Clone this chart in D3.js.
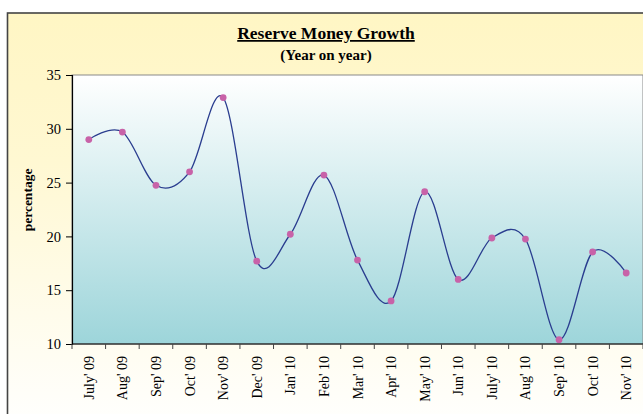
<!DOCTYPE html>
<html>
<head>
<meta charset="utf-8">
<script src="https://cdn.jsdelivr.net/npm/d3@7"></script>
<style>
  html, body { margin: 0; padding: 0; background: #ffffff; overflow: hidden; }
  svg { display: block; font-family: "Liberation Serif", "Times New Roman", serif; }
</style>
</head>
<body>
<script>
// chart data
var months = ["July' 09", "Aug' 09", "Sep' 09", "Oct' 09", "Nov' 09", "Dec' 09", "Jan' 10", "Feb' 10",
              "Mar' 10", "Apr' 10", "May' 10", "Jun' 10", "July' 10", "Aug' 10", "Sep' 10", "Oct' 10", "Nov' 10"];
var growth = [29.0, 29.7, 24.75, 26.0, 32.9, 17.7, 20.2, 25.7,
              17.8, 14.0, 24.15, 16.0, 19.85, 19.75, 10.4, 18.55, 16.6];
var yTicks = [10, 15, 20, 25, 30, 35];

var width = 643, height = 414;
var plot = {left: 72, top: 75, right: 643, bottom: 344};

var svg = d3.select("body").append("svg")
    .attr("width", width)
    .attr("height", height);

var defs = svg.append("defs");

var outerGrad = defs.append("linearGradient")
    .attr("id", "outerGrad")
    .attr("x1", 0).attr("y1", 0).attr("x2", 0).attr("y2", 1);
outerGrad.append("stop").attr("offset", "0%").attr("stop-color", "#fff6c4");
outerGrad.append("stop").attr("offset", "35%").attr("stop-color", "#fff8d2");
outerGrad.append("stop").attr("offset", "100%").attr("stop-color", "#ffffff");

var plotGrad = defs.append("linearGradient")
    .attr("id", "plotGrad")
    .attr("x1", 0).attr("y1", 0).attr("x2", 0).attr("y2", 1);
plotGrad.append("stop").attr("offset", "0%").attr("stop-color", "#ffffff");
plotGrad.append("stop").attr("offset", "100%").attr("stop-color", "#9dd5da");

// outer chart frame
svg.append("rect")
    .attr("x", 7.5).attr("y", 13)
    .attr("width", 660).attr("height", 420)
    .attr("fill", "url(#outerGrad)")
    .attr("stroke", "#444")
    .attr("stroke-width", 1.6);

// plot area
svg.append("rect")
    .attr("x", plot.left).attr("y", plot.top)
    .attr("width", plot.right - plot.left).attr("height", plot.bottom - plot.top)
    .attr("fill", "url(#plotGrad)")
    .attr("stroke", "#8a8a8a")
    .attr("stroke-width", 1);

var x = d3.scaleBand()
    .domain(months)
    .range([plot.left, plot.right]);

var y = d3.scaleLinear()
    .domain([10, 35])
    .range([plot.bottom, plot.top]);

// y axis
var yAxis = svg.append("g")
    .attr("transform", "translate(" + plot.left + ",0)")
    .call(d3.axisLeft(y).tickValues(yTicks).tickSize(6).tickPadding(5));
yAxis.select(".domain").attr("stroke", "#000").attr("stroke-width", 1.2);
yAxis.selectAll(".tick line").attr("stroke", "#000");
yAxis.selectAll("text")
    .attr("font-family", "Liberation Serif, serif")
    .attr("font-size", 14.5)
    .attr("fill", "#000");

// x axis: ticks on band boundaries
var xAxis = svg.append("g")
    .attr("transform", "translate(0," + plot.bottom + ")");
xAxis.append("line")
    .attr("x1", plot.left).attr("x2", plot.right)
    .attr("stroke", "#000").attr("stroke-width", 1.2);
xAxis.selectAll(".xtick")
    .data(months.concat(["end"]))
    .enter().append("line")
    .attr("class", "xtick")
    .attr("x1", function(d, i) { return plot.left + i * x.step(); })
    .attr("x2", function(d, i) { return plot.left + i * x.step(); })
    .attr("y1", 0).attr("y2", 5)
    .attr("stroke", "#444");
xAxis.selectAll(".xlabel")
    .data(months)
    .enter().append("text")
    .attr("class", "xlabel")
    .attr("transform", function(d) {
        return "translate(" + (x(d) + x.bandwidth() / 2 + 5) + ",12) rotate(-90)";
    })
    .attr("text-anchor", "end")
    .attr("font-size", 14)
    .attr("fill", "#000")
    .text(function(d) { return d; });

// smoothed line
var line = d3.line()
    .x(function(d, i) { return x(months[i]) + x.bandwidth() / 2; })
    .y(function(d) { return y(d); })
    .curve(d3.curveCardinal.tension(0));

svg.append("path")
    .datum(growth)
    .attr("d", line)
    .attr("fill", "none")
    .attr("stroke", "#2a3d8f")
    .attr("stroke-width", 1.3);

svg.selectAll(".pt")
    .data(growth)
    .enter().append("circle")
    .attr("class", "pt")
    .attr("cx", function(d, i) { return x(months[i]) + x.bandwidth() / 2; })
    .attr("cy", function(d) { return y(d); })
    .attr("r", 3.4)
    .attr("fill", "#c862a8");

// titles
svg.append("text")
    .attr("x", 326).attr("y", 39)
    .attr("text-anchor", "middle")
    .attr("font-size", 17.5)
    .attr("font-weight", "bold")
    .attr("text-decoration", "underline")
    .text("Reserve Money Growth");

svg.append("text")
    .attr("x", 326).attr("y", 60)
    .attr("text-anchor", "middle")
    .attr("font-size", 15)
    .attr("font-weight", "bold")
    .text("(Year on year)");

svg.append("text")
    .attr("transform", "translate(32,200) rotate(-90)")
    .attr("text-anchor", "middle")
    .attr("font-size", 13.5)
    .attr("font-weight", "bold")
    .text("percentage");
</script>
</body>
</html>
